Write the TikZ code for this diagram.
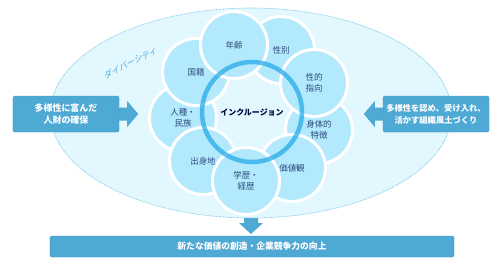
\documentclass[tikz,border=0pt]{standalone}
\usepackage{fontspec}
\setmainfont{Noto Sans CJK JP}
\newfontfamily\jpslant[FakeSlant=0.25]{Noto Sans CJK JP}
\usepackage{xcolor}
\usepackage{tikz}
\usetikzlibrary{calc,shapes.geometric}
\definecolor{skyfill}{RGB}{226,247,254}
\definecolor{skyline}{RGB}{110,195,230}
\definecolor{petalfill}{RGB}{178,233,252}
\definecolor{ringblue}{RGB}{30,165,232}
\definecolor{boxblue}{RGB}{78,169,213}
\definecolor{boxedge}{RGB}{62,152,200}
\definecolor{textnavy}{RGB}{45,75,125}
\definecolor{divblue}{RGB}{70,175,225}

\begin{document}
\begin{tikzpicture}[x=1bp, y=-1bp,
    petal/.style={circle, draw=white, line width=3bp, fill=petalfill,
        minimum size=67bp, inner sep=0pt, align=center, text=textnavy,
        font=\fontsize{8.5}{11}\selectfont},
    goalbox/.style={rectangle, rounded corners=1.5bp, draw=boxedge,
        fill=boxblue, text=white, align=center, inner sep=0pt},
    blockarrow/.style={fill=boxblue}
]
\useasboundingbox (0,0) rectangle (500,263);

% down arrow under the ellipse
\coordinate (down) at (251,212);
\fill[blockarrow] ($(down)+(-7,0)$) -- ($(down)+(7,0)$) -- ($(down)+(7,11)$)
    -- ($(down)+(12,11)$) -- ($(down)+(0,22)$) -- ($(down)+(-12,11)$)
    -- ($(down)+(-7,11)$) -- cycle;

\node[ellipse, draw=skyline, fill=skyfill, line width=0.6bp,
    dash pattern=on 0.7bp off 0.7bp, minimum width=401bp,
    minimum height=210bp, inner sep=0pt] (div) at (251,113) {};
\node[rotate=27, text=divblue, font=\jpslant\fontsize{8.5}{8.5}\selectfont]
    (divlabel) at (130,63) {ダイバーシティ};

% petals, lower ones first
\node[petal] (race) at (183,118) {人種・\\民族};
\node[petal] (nation) at (196,72) {国籍};
\node[petal] (origin) at (203,161) {出身地};
\node[petal] (gender) at (281,50) {性別};
\node[petal] (body) at (319,130) {身体的\\特徴};
\node[petal] (age) at (234,45) {年齢};
\node[petal] (orient) at (314,83) {性的\\指向};
\node[petal] (values) at (292,168) {価値観};
\node[petal] (career) at (246,181) {学歴・\\経歴};

% inclusion ring
\node[font=\bfseries\fontsize{8}{8}\selectfont, text=black!75!blue] (incl)
    at (252,112) {インクルージョン};
\draw[ringblue, line width=4.5bp, draw opacity=0.7] (incl.center)
    circle[radius=50bp];

% side boxes
\node[goalbox, minimum width=106bp, minimum height=36bp,
    font=\bfseries\fontsize{9}{12}\selectfont] (lbox) at (66,114)
    {多様性に富んだ\\人財の確保};
\node[goalbox, minimum width=106bp, minimum height=36bp,
    font=\bfseries\fontsize{8.3}{12}\selectfont] (rbox) at (436,114)
    {多様性を認め、受け入れ、\\活かす組織風土づくり};
\node[goalbox, minimum width=404bp, minimum height=21bp,
    font=\bfseries\fontsize{8.8}{10}\selectfont] (bbox) at (252,246.5)
    {新たな価値の創造・企業競争力の向上};

\fill[blockarrow] ($(lbox.east)+(0,-6.5)$) -- ($(lbox.east)+(8,-6.5)$)
    -- ($(lbox.east)+(8,-13)$) -- ($(lbox.east)+(19,0)$)
    -- ($(lbox.east)+(8,13)$) -- ($(lbox.east)+(8,6.5)$)
    -- ($(lbox.east)+(0,6.5)$) -- cycle;
\fill[blockarrow] ($(rbox.west)+(0,-6.5)$) -- ($(rbox.west)+(-8,-6.5)$)
    -- ($(rbox.west)+(-8,-13)$) -- ($(rbox.west)+(-19,0)$)
    -- ($(rbox.west)+(-8,13)$) -- ($(rbox.west)+(-8,6.5)$)
    -- ($(rbox.west)+(0,6.5)$) -- cycle;
\end{tikzpicture}
\end{document}
